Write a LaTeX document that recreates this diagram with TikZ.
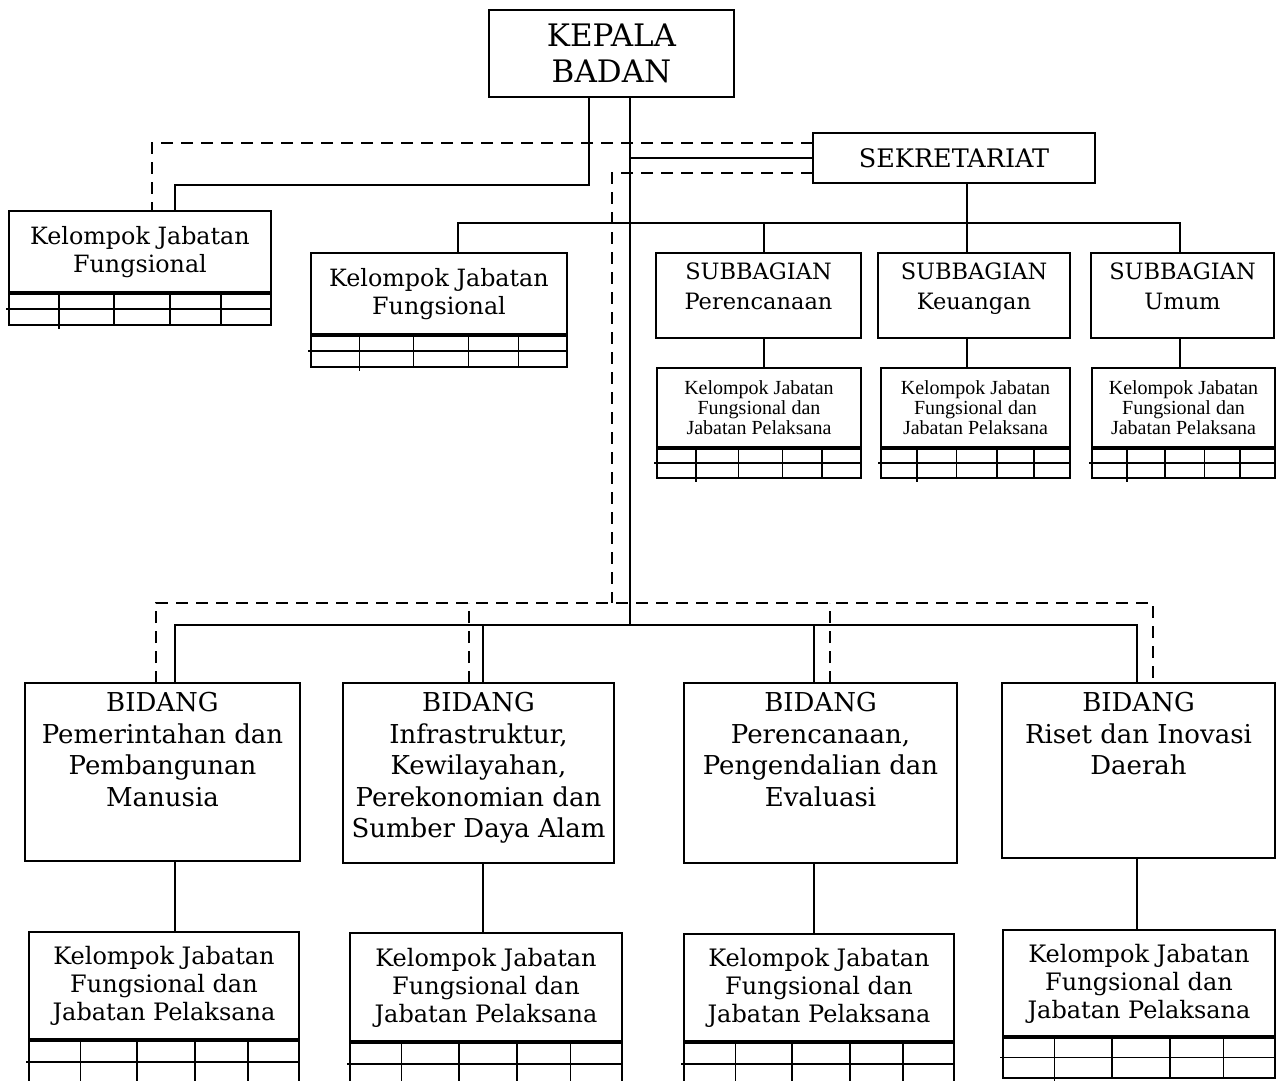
\documentclass[tikz,border=0pt]{standalone}
\usepackage{fontspec}
\setmainfont{DejaVu Serif}
\newfontfamily\smallserif{Liberation Serif}
\usetikzlibrary{calc}
\newcommand{\tabgrid}[2]{%
  \draw[gridline] (#1.south west) rectangle ($(#1.south east)+(0,#2)$);
  \draw[gridline] ($(#1.south west)+(-3,#2/2)$) -- ($(#1.south east)+(0,#2/2)$);
  \foreach \f/\e in {0.19/4,0.40/0,0.615/0,0.81/0}
    \draw[gridline] ($(#1.south west)!\f!(#1.south east)$) -- ++(0,#2+\e);
  \draw[gridthick] (#1.south west) -- (#1.south east);
}
\begin{document}
\begin{tikzpicture}[x=1pt,y=-1pt,
  box/.style={draw, line width=1.8pt, inner sep=0pt, outer sep=0pt, align=center},
  conn/.style={line width=1.6pt},
  dconn/.style={line width=1.8pt, dash pattern=on 12pt off 8pt},
  gridline/.style={line width=1.6pt},
  gridthick/.style={line width=3.2pt},
  txt/.style={align=center, inner sep=0pt},
  midfont/.style={font=\fontsize{23.8}{28}\selectfont},
  subfont/.style={font=\fontsize{22.5}{29.5}\selectfont},
  lowfont/.style={font=\fontsize{24}{28}\selectfont},
  bidfont/.style={font=\fontsize{26}{31.5}\selectfont},
  smfont/.style={font=\smallserif\fontsize{20}{20}\selectfont},
]
\useasboundingbox (0,0) rectangle (1276,1080);

% top
\node[box, minimum width=245pt, minimum height=87pt, font=\fontsize{31}{36}\selectfont] (kepala) at (611.5,53.5) {KEPALA\\BADAN};
\node[box, minimum width=282pt, minimum height=50pt, font=\fontsize{25.5}{28}\selectfont] (sekr) at (954,158) {SEKRETARIAT};

\node[box, midfont, minimum width=262pt, minimum height=82pt] (kjf1) at (140,252) {Kelompok Jabatan\\Fungsional};
\node[box, midfont, minimum width=256pt, minimum height=82pt] (kjf2) at (439,294) {Kelompok Jabatan\\Fungsional};
\tabgrid{kjf1}{32}
\tabgrid{kjf2}{32}

\node[box, minimum width=205pt, minimum height=85pt] (subP) at (758.5,295.5) {};
\node[box, minimum width=192pt, minimum height=85pt] (subK) at (974,295.5) {};
\node[box, minimum width=183pt, minimum height=85pt] (subU) at (1182.5,295.5) {};
\node[txt, subfont, anchor=north] (subPt) at ([yshift=-10pt]subP.north) {SUBBAGIAN\\Perencanaan};
\node[txt, subfont, anchor=north] (subKt) at ([yshift=-10pt]subK.north) {SUBBAGIAN\\Keuangan};
\node[txt, subfont, anchor=north] (subUt) at ([yshift=-10pt]subU.north) {SUBBAGIAN\\Umum};

\node[box, smfont, minimum width=204pt, minimum height=80pt] (skP) at (759,408) {Kelompok Jabatan\\Fungsional dan\\Jabatan Pelaksana};
\node[box, smfont, minimum width=189pt, minimum height=80pt] (skK) at (975.5,408) {Kelompok Jabatan\\Fungsional dan\\Jabatan Pelaksana};
\node[box, smfont, minimum width=183pt, minimum height=80pt] (skU) at (1183.5,408) {Kelompok Jabatan\\Fungsional dan\\Jabatan Pelaksana};
\tabgrid{skP}{30}
\tabgrid{skK}{30}
\tabgrid{skU}{30}

% bidang
\node[box, minimum width=275pt, minimum height=178pt] (b1) at (162.5,772) {};
\node[box, minimum width=271pt, minimum height=180pt] (b2) at (478.5,773) {};
\node[box, minimum width=273pt, minimum height=180pt] (b3) at (820.5,773) {};
\node[box, minimum width=273pt, minimum height=175pt] (b4) at (1138.5,770.5) {};
\node[txt, bidfont, anchor=north] (b1t) at ([yshift=-9pt]b1.north) {BIDANG\\Pemerintahan dan\\Pembangunan\\Manusia};
\node[txt, bidfont, anchor=north] (b2t) at ([yshift=-9pt]b2.north) {BIDANG\\Infrastruktur,\\Kewilayahan,\\Perekonomian dan\\Sumber Daya Alam};
\node[txt, bidfont, anchor=north] (b3t) at ([yshift=-9pt]b3.north) {BIDANG\\Perencanaan,\\Pengendalian dan\\Evaluasi};
\node[txt, bidfont, anchor=north] (b4t) at ([yshift=-9pt]b4.north) {BIDANG\\Riset dan Inovasi\\Daerah};

\node[box, lowfont, minimum width=270pt, minimum height=108pt] (k1) at (164,986) {Kelompok Jabatan\\Fungsional dan\\Jabatan Pelaksana};
\node[box, lowfont, minimum width=272pt, minimum height=109pt] (k2) at (486,987.5) {Kelompok Jabatan\\Fungsional dan\\Jabatan Pelaksana};
\node[box, lowfont, minimum width=270pt, minimum height=108pt] (k3) at (819,988) {Kelompok Jabatan\\Fungsional dan\\Jabatan Pelaksana};
\node[box, lowfont, minimum width=272pt, minimum height=107pt] (k4) at (1139,983.5) {Kelompok Jabatan\\Fungsional dan\\Jabatan Pelaksana};
\tabgrid{k1}{44}
\tabgrid{k2}{44}
\tabgrid{k3}{44}
\tabgrid{k4}{41}

% coordinates
\coordinate (kL) at ([xshift=-22.5pt]kepala.south);
\coordinate (kT) at ([xshift=18.5pt]kepala.south);
\coordinate (bar) at (630,625);
\coordinate (dbar) at (612,603);
\coordinate (sD) at ([xshift=13pt]sekr.south);
\path (sD) ++(0,40) coordinate (sbar);
\coordinate (k2s) at ([xshift=19pt]kjf2.north);
\coordinate (pS) at ([xshift=5.5pt]subP.north);
\coordinate (kS) at ([xshift=-7pt]subK.north);
\coordinate (uS) at ([xshift=-2.5pt]subU.north);
\coordinate (b1s) at ([xshift=12.5pt]b1.north);
\coordinate (b1d) at ([xshift=-6.5pt]b1.north);
\coordinate (b2s) at ([xshift=4.5pt]b2.north);
\coordinate (b2d) at ([xshift=-9.5pt]b2.north);
\coordinate (b3s) at ([xshift=-6.5pt]b3.north);
\coordinate (b3d) at ([xshift=9.5pt]b3.north);
\coordinate (b4s) at ([xshift=-1.5pt]b4.north);
\coordinate (b4d) at ([xshift=14.5pt]b4.north);

% connectors top
\draw[conn] (kL) -- ++(0,88) -| ([xshift=35pt]kjf1.north);
\draw[dconn] ([yshift=15pt]sekr.west) -| ([xshift=12pt]kjf1.north);
\draw[conn] (kT) -- (kT |- bar);
\draw[conn] (kT |- sekr.west) -- (sekr.west);
\draw[dconn] ([yshift=-15pt]sekr.west) -| (dbar);

\draw[conn] (sD) -- (sbar);
\draw[conn] (k2s) |- (uS |- sbar) -- (uS);
\draw[conn] (pS) -- (pS |- sbar);
\draw[conn] (kS) -- (kS |- sbar);
\draw[conn] (pS |- subP.south) -- (pS |- skP.north);
\draw[conn] (kS |- subK.south) -- (kS |- skK.north);
\draw[conn] (uS |- subU.south) -- (uS |- skU.north);

% bidang bars
\draw[conn] (b1s) |- (b4s |- bar) -- (b4s);
\draw[conn] (b2s) -- (b2s |- bar);
\draw[conn] (b3s) -- (b3s |- bar);
\draw[dconn] (b1d) |- (b4d |- dbar) -- (b4d);
\draw[dconn] (b2d) -- (b2d |- dbar);
\draw[dconn] (b3d) -- (b3d |- dbar);

\draw[conn] (b1s |- b1.south) -- (b1s |- k1.north);
\draw[conn] (b2s |- b2.south) -- (b2s |- k2.north);
\draw[conn] (b3s |- b3.south) -- (b3s |- k3.north);
\draw[conn] (b4s |- b4.south) -- (b4s |- k4.north);
\end{tikzpicture}
\end{document}
